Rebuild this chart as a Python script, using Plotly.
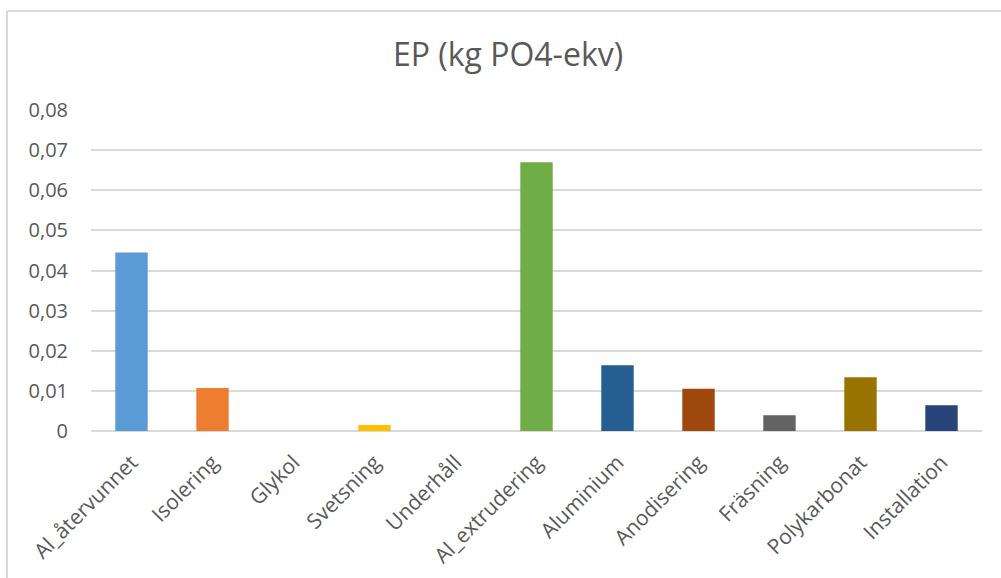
import plotly.graph_objects as go

# EP (eutrophication potential) per process step, kg PO4-eq
categories = [
    "Al_återvunnet", "Isolering", "Glykol", "Svetsning", "Underhåll",
    "Al_extrudering", "Aluminium", "Anodisering", "Fräsning",
    "Polykarbonat", "Installation",
]
ep_values = [0.0445, 0.0107, 0.0, 0.0015, 0.0, 0.0670, 0.0164, 0.0105, 0.0039, 0.0134, 0.0064]
bar_colors = [
    "#5B9BD5", "#ED7D31", "#A5A5A5", "#FFC000", "#4472C4",
    "#70AD47", "#255E91", "#9E480E", "#636363", "#997300", "#264478",
]
y_ticks = [0, 0.01, 0.02, 0.03, 0.04, 0.05, 0.06, 0.07, 0.08]
y_tick_text = ["0", "0,01", "0,02", "0,03", "0,04", "0,05", "0,06", "0,07", "0,08"]

W, H = 1001, 578
L, R, T, B = 91, 982, 110, 431  # plot area in pixels

def px_x(x):
    return (x - L) / (R - L)

def px_y(y):
    return (B - y) / (B - T)

TEXT = "#595959"
GRID = "#D9D9D9"
FONT = "Open Sans, Liberation Sans, sans-serif"

fig = go.Figure(
    go.Bar(
        x=categories,
        y=ep_values,
        marker=dict(color=bar_colors, line=dict(width=0)),
        width=0.4,
        hoverinfo="x+y",
    )
)

fig.update_layout(
    width=W,
    height=H,
    margin=dict(l=L, r=W - R, t=T, b=H - B, autoexpand=False),
    paper_bgcolor="white",
    plot_bgcolor="white",
    showlegend=False,
    font=dict(family=FONT, color=TEXT, size=18),
    title=dict(
        text="EP (kg PO4-ekv)",
        x=508 / W,
        xanchor="center",
        y=1 - 55 / H,
        yanchor="middle",
        yref="container",
        font=dict(family=FONT, size=32, color=TEXT),
    ),
    xaxis=dict(
        tickangle=-45,
        showgrid=False,
        showline=False,
        ticks="",
        automargin=False,
        ticklabelstandoff=14,
        tickfont=dict(size=21, color=TEXT),
    ),
    yaxis=dict(
        range=[0, 0.08],
        tickvals=y_ticks,
        ticktext=y_tick_text,
        showgrid=True,
        gridcolor=GRID,
        gridwidth=1.5,
        zeroline=True,
        zerolinecolor=GRID,
        zerolinewidth=1.5,
        showline=False,
        ticks="",
        automargin=False,
        ticklabelstandoff=22,
        tickfont=dict(size=20, color=TEXT),
    ),
    shapes=[
        # chart frame: top and left edges
        dict(type="line", xref="paper", yref="paper",
             x0=px_x(7), x1=px_x(W + 5), y0=px_y(11), y1=px_y(11),
             line=dict(color=GRID, width=2)),
        dict(type="line", xref="paper", yref="paper",
             x0=px_x(7), x1=px_x(7), y0=px_y(11), y1=px_y(H + 5),
             line=dict(color=GRID, width=2)),
    ],
)

fig.write_html("out.html")
